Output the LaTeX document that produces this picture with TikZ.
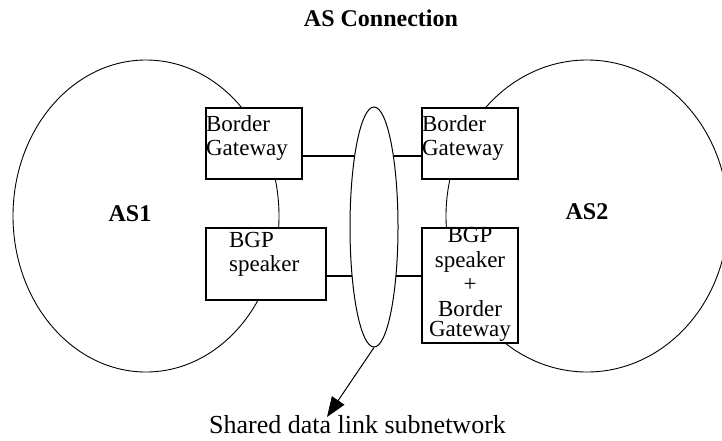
\documentclass[tikz,border=0pt]{standalone}
\usepackage{fontspec}
\setmainfont{Liberation Serif}
\usetikzlibrary{shapes.geometric,arrows.meta}
\tikzset{
  asregion/.style={ellipse, draw, line width=0.9pt, inner sep=0pt},
  gwbox/.style={draw, fill=white, line width=2.2pt, inner sep=0pt},
  boxtext/.style={font=\fontsize{23}{24.5}\selectfont, inner sep=0pt},
  bigbold/.style={font=\fontsize{24}{26}\selectfont\bfseries, inner sep=0pt},
  link/.style={line width=2pt}
}
\begin{document}
\begin{tikzpicture}[x=1pt,y=-1pt]
  \useasboundingbox (0,0) rectangle (722,440);
  \node[bigbold, anchor=base] (title) at (381,26) {AS Connection};
  \node[asregion, minimum width=266pt, minimum height=312pt] (as1) at (146,216) {};
  \node[asregion, minimum width=282pt, minimum height=312pt] (as2) at (587,216) {};
  \node[bigbold] (as1lbl) at (130,214) {AS1};
  \node[bigbold] (as2lbl) at (587,212) {AS2};
  \node[asregion, line width=1pt, minimum width=48pt, minimum height=240pt] (net) at (374,227) {};
  \node[gwbox, minimum width=96pt, minimum height=71pt] (bg1) at (254,143.5) {};
  \node[gwbox, minimum width=120pt, minimum height=72pt] (bgp1) at (266,264) {};
  \node[gwbox, minimum width=96pt, minimum height=71pt] (bg2) at (470,143.5) {};
  \node[gwbox, minimum width=96pt, minimum height=115pt] (bgp2) at (470,285.5) {};
  \node[boxtext, align=left, anchor=north west] (bg1txt)
    at ([xshift=1pt,yshift=-8.3pt]bg1.north west) {Border\\Gateway};
  \node[boxtext, align=left, anchor=north west] (bgp1txt)
    at ([xshift=24pt,yshift=-5pt]bgp1.north west) {BGP\\speaker};
  \node[boxtext, align=left, anchor=north west] (bg2txt)
    at ([xshift=1pt,yshift=-8.3pt]bg2.north west) {Border\\Gateway};
  \node[boxtext, align=center, anchor=north] (bgp2txt)
    at ([yshift=-0.5pt]bgp2.north) {BGP\\speaker\\+\\Border\\[-4pt]Gateway};
  \coordinate (upper) at (0,156);
  \coordinate (lower) at (0,276);
  \draw[link] (bg1.east |- upper) -- (net.105 |- upper);
  \draw[link] (net.75 |- upper) -- (bg2.west |- upper);
  \draw[link] (bgp1.east |- lower) -- (net.246 |- lower);
  \draw[link] (net.294 |- lower) -- (bgp2.west |- lower);
  \coordinate (tip) at (327,417);
  \draw[line width=1pt, -{Triangle[length=20pt,width=15pt]}] (net.south) -- (tip);
  \node[font=\fontsize{26}{28}\selectfont, inner sep=0pt, anchor=base] (shared)
    at (357.5,433) {Shared data link subnetwork};
\end{tikzpicture}
\end{document}
